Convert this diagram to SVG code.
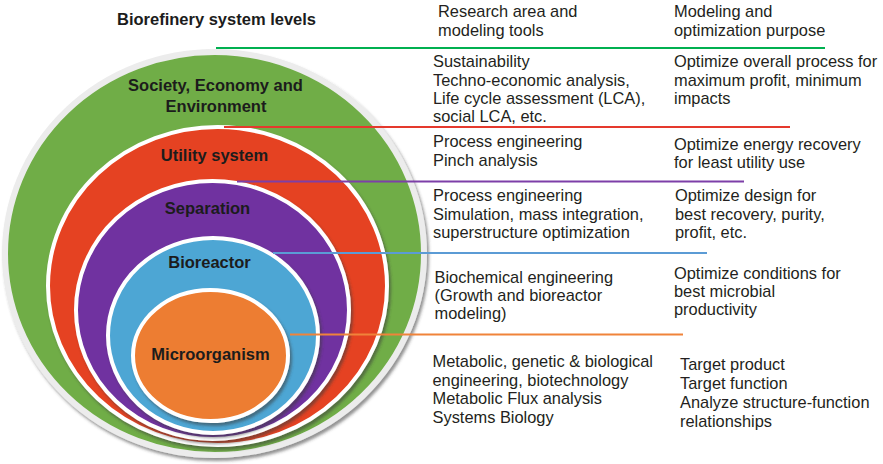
<svg xmlns="http://www.w3.org/2000/svg" width="883" height="464" viewBox="0 0 883 464">
  <defs>
    <filter id="disk-shadow" x="-10%" y="-10%" width="125%" height="125%">
      <feDropShadow dx="2" dy="3" stdDeviation="1.6" flood-color="#3a3a3a" flood-opacity="0.55"/>
    </filter>
    <style>
      .disk { stroke: #ffffff; stroke-width: 4; filter: url(#disk-shadow); }
      .outer { stroke: #ececec; stroke-width: 6; filter: url(#disk-shadow); }
      .level { font-family: "Liberation Sans", Arial, sans-serif; font-size: 16.5px; font-weight: bold; fill: #1c1c1c; text-anchor: middle; }
      .col { font-family: "Liberation Sans", Arial, sans-serif; font-size: 16.4px; fill: #231f20; }
      .rule { stroke-width: 2; fill: none; }
    </style>
  </defs>
  <rect width="883" height="464" fill="#ffffff"/>

  <text class="level" x="216.5" y="25">Biorefinery system levels</text>

  <!-- nested system levels, outermost first -->
  <g id="society">
    <ellipse class="outer" cx="214.5" cy="253.5" rx="209.5" ry="201.5" fill="#70ad47"/>
    <text class="level" x="215.5" y="91">Society, Economy and</text>
    <text class="level" x="216" y="111.5">Environment</text>
  </g>
  <g id="utility">
    <ellipse class="disk" cx="217.5" cy="286" rx="169.5" ry="159" fill="#e54321"/>
    <text class="level" x="214.5" y="161">Utility system</text>
  </g>
  <g id="separation">
    <ellipse class="disk" cx="212.5" cy="310" rx="136.5" ry="129" fill="#7030a0"/>
    <text class="level" x="207.5" y="213.5">Separation</text>
  </g>
  <g id="bioreactor">
    <ellipse class="disk" cx="213" cy="335.5" rx="105" ry="97.5" fill="#4ea6d4"/>
    <text class="level" x="209.5" y="267.5">Bioreactor</text>
  </g>
  <g id="microorganism">
    <ellipse class="disk" cx="210.5" cy="355.5" rx="77.5" ry="65.5" fill="#ed7d31"/>
    <text class="level" x="210.5" y="359.5">Microorganism</text>
  </g>

  <!-- level separators running from each disk out to the table -->
  <g id="connectors">
    <line class="rule" x1="216" y1="48" x2="825" y2="48" stroke="#00b050"/>
    <line class="rule" x1="224" y1="127" x2="790" y2="127" stroke="#e5392d"/>
    <line class="rule" x1="237" y1="181.5" x2="744" y2="181.5" stroke="#7d3fa8"/>
    <line class="rule" x1="273" y1="253" x2="707" y2="253" stroke="#5b9bd5"/>
    <line class="rule" x1="290" y1="334.5" x2="683" y2="334.5" stroke="#f0833a"/>
  </g>

  <!-- column headers -->
  <g id="header-research">
    <text class="col" x="438" y="17">Research area and</text>
    <text class="col" x="438" y="36">modeling tools</text>
  </g>
  <g id="header-purpose">
    <text class="col" x="674" y="17">Modeling and</text>
    <text class="col" x="674" y="36">optimization purpose</text>
  </g>

  <!-- society row -->
  <g id="research-society">
    <text class="col" x="433" y="67">Sustainability</text>
    <text class="col" x="433" y="85.5">Techno-economic analysis,</text>
    <text class="col" x="433" y="104">Life cycle assessment (LCA),</text>
    <text class="col" x="433" y="122">social LCA, etc.</text>
  </g>
  <g id="purpose-society">
    <text class="col" x="674" y="67">Optimize overall process for</text>
    <text class="col" x="674" y="85.5">maximum profit, minimum</text>
    <text class="col" x="674" y="104">impacts</text>
  </g>

  <!-- utility row -->
  <g id="research-utility">
    <text class="col" x="433" y="147">Process engineering</text>
    <text class="col" x="433" y="166">Pinch analysis</text>
  </g>
  <g id="purpose-utility">
    <text class="col" x="674" y="149.5">Optimize energy recovery</text>
    <text class="col" x="674" y="167.5">for least utility use</text>
  </g>

  <!-- separation row -->
  <g id="research-separation">
    <text class="col" x="433" y="201">Process engineering</text>
    <text class="col" x="433" y="219.5">Simulation, mass integration,</text>
    <text class="col" x="433" y="237.5">superstructure optimization</text>
  </g>
  <g id="purpose-separation">
    <text class="col" x="675" y="201">Optimize design for</text>
    <text class="col" x="675" y="219.5">best recovery, purity,</text>
    <text class="col" x="675" y="237.5">profit, etc.</text>
  </g>

  <!-- bioreactor row -->
  <g id="research-bioreactor">
    <text class="col" x="434.5" y="282.5">Biochemical engineering</text>
    <text class="col" x="434.5" y="301">(Growth and bioreactor</text>
    <text class="col" x="434.5" y="318.5">modeling)</text>
  </g>
  <g id="purpose-bioreactor">
    <text class="col" x="674" y="279">Optimize conditions for</text>
    <text class="col" x="674" y="297">best microbial</text>
    <text class="col" x="674" y="315">productivity</text>
  </g>

  <!-- microorganism row -->
  <g id="research-microorganism">
    <text class="col" x="432.5" y="367">Metabolic, genetic &amp; biological</text>
    <text class="col" x="432.5" y="385.5">engineering, biotechnology</text>
    <text class="col" x="432.5" y="403.5">Metabolic Flux analysis</text>
    <text class="col" x="432.5" y="422.5">Systems Biology</text>
  </g>
  <g id="purpose-microorganism">
    <text class="col" x="680" y="370">Target product</text>
    <text class="col" x="680" y="389">Target function</text>
    <text class="col" x="680" y="408">Analyze structure-function</text>
    <text class="col" x="680" y="426.5">relationships</text>
  </g>
</svg>
